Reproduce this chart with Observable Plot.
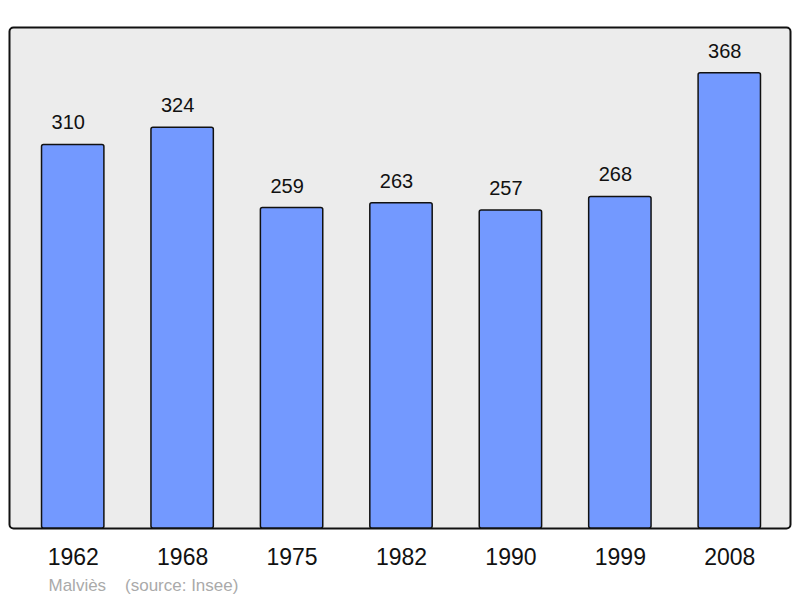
<!DOCTYPE html>
<html><head><meta charset="utf-8">
<script src="https://cdn.jsdelivr.net/npm/d3@7"></script>
<script src="https://cdn.jsdelivr.net/npm/@observablehq/plot@0.6"></script>
<style>body{margin:0;background:#fff;} svg{display:block;font-family:"Liberation Sans",Arial,sans-serif;}</style>
</head><body><div id="chart"></div>
<script>
const years = ["1962","1968","1975","1982","1990","1999","2008"];
const population = [310,324,259,263,257,268,368];
const captionText = ["Malviès    (source: Insee)"];
const data = years.map((y,i)=>({year:y, pop:population[i]}));

const chart = Plot.plot({
  width: 800, height: 598,
  marginLeft: 18, marginRight: 16, marginTop: 27, marginBottom: 70,
  style: {fontFamily: '"Liberation Sans", Arial, sans-serif', background: "white"},
  x: {domain: years, paddingInner: 0.43, paddingOuter: 0.215, round: false, label: null},
  y: {domain: [0, 405], axis: null},
  marks: [
    Plot.frame({fill: "#ececec", stroke: "#111", strokeWidth: 2, rx: 4, insetLeft: -9, insetRight: -6}),
    Plot.barY(data, {x: "year", y: "pop", fill: "#7399ff", stroke: "#111", strokeWidth: 1.5, rx: 2}),
    Plot.text(data, {x: "year", y: "pop", text: d => String(d.pop), dx: -5, dy: -22, fontSize: 20, fill: "#111"}),
    Plot.axisX({tickSize: 0, tickPadding: 20, fontSize: 23, fill: "#111"}),
    Plot.text(captionText, {frameAnchor: "bottom-left", text: d => d, dx: 30, dy: 57, fontSize: 17, fill: "#aaa", textAnchor: "start", lineAnchor: "middle"})
  ]
});
document.getElementById("chart").append(chart);
</script></body></html>
